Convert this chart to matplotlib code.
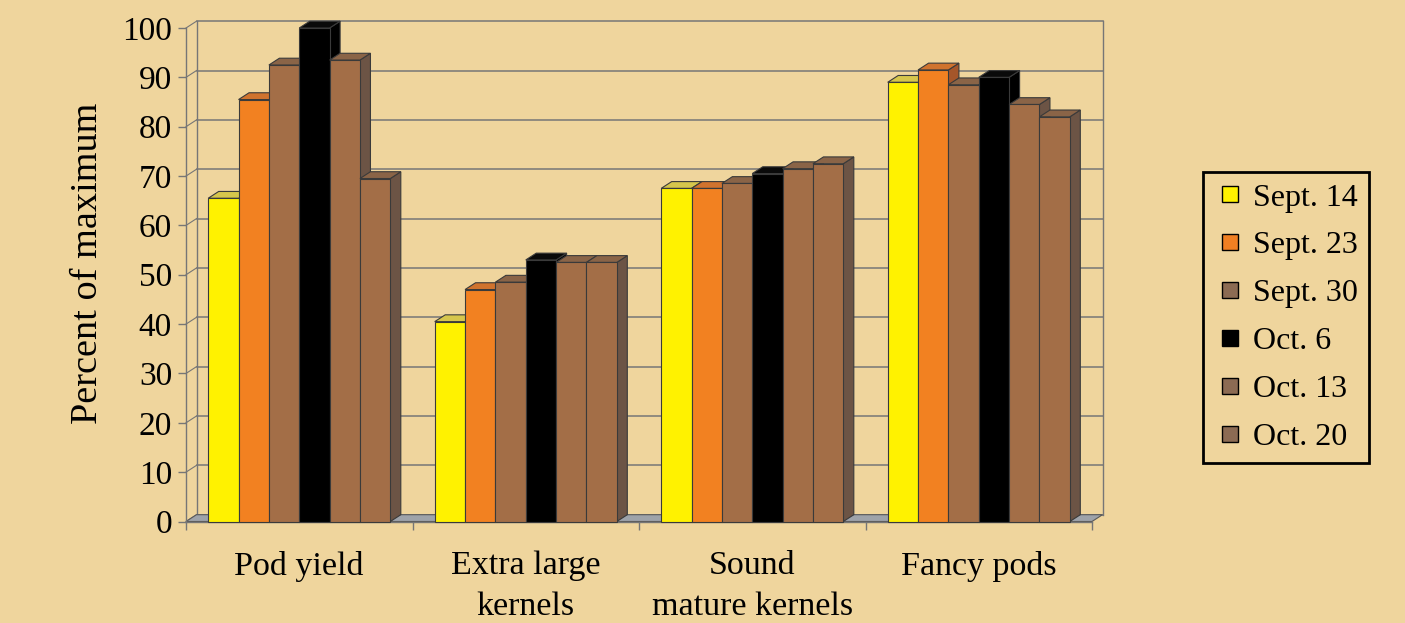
import numpy as np
import matplotlib.pyplot as plt
from matplotlib.patches import Polygon
from matplotlib.lines import Line2D

plt.rcParams['font.family'] = ['Liberation Serif', 'DejaVu Serif']

categories = ['Pod yield', 'Extra large\nkernels', 'Sound\nmature kernels', 'Fancy pods']
dates = ['Sept. 14', 'Sept. 23', 'Sept. 30', 'Oct. 6', 'Oct. 13', 'Oct. 20']

sept14 = [65.5, 40.5, 67.5, 89]
sept23 = [85.5, 47, 67.5, 91.5]
sept30 = [92.5, 48.5, 68.5, 88.5]
oct6 = [100, 53, 70.5, 90]
oct13 = [93.5, 52.5, 71.5, 84.5]
oct20 = [69.5, 52.5, 72.5, 82]
y_ticks = [0, 10, 20, 30, 40, 50, 60, 70, 80, 90, 100]

series = [sept14, sept23, sept30, oct6, oct13, oct20]

front_colors = ['#FFF200', '#F28121', '#A36E47', '#000000', '#A36E47', '#A36E47']
top_colors = ['#D6C64C', '#D0732E', '#8A6447', '#0a0a0a', '#8A6447', '#8A6447']
side_colors = ['#A89A2E', '#A5562A', '#6C5445', '#000000', '#6C5445', '#6C5445']
legend_colors = ['#FFF200', '#F07F22', '#8C6B53', '#000000', '#8C6B53', '#8C6B53']

bg = '#EFD59D'
edge = '#3a3a3a'
grid_c = '#767676'

W, H = 1405, 623
fig = plt.figure(figsize=(W / 100, H / 100), dpi=100, facecolor=bg)

# front plot area in pixels
ax_l, ax_r, ax_b, ax_t = 186, 1092, 521.5, 28
ax = fig.add_axes([ax_l / W, 1 - ax_b / H, (ax_r - ax_l) / W, (ax_b - ax_t) / H])
ax.set_facecolor('none')
n = len(categories)
ax.set_xlim(0, n)
ax.set_ylim(0, 100)

# depth offset of the 3d look, px -> data
dx = 10.5 * n / (ax_r - ax_l)
dy = 6.8 * 100 / (ax_b - ax_t)

# back wall
for v in y_ticks:
    ax.plot([dx, n + dx], [v + dy, v + dy], color=grid_c, lw=1.1, clip_on=False, zorder=1)
    ax.plot([0, dx], [v, v + dy], color=grid_c, lw=0.8, clip_on=False, zorder=1)
ax.plot([dx, dx], [dy, 100 + dy], color=grid_c, lw=1.0, clip_on=False, zorder=1)
ax.plot([n + dx, n + dx], [dy, 100 + dy], color=grid_c, lw=1.0, clip_on=False, zorder=1)

# floor
ax.add_patch(Polygon([(0, 0), (n, 0), (n + dx, dy), (dx, dy)], closed=True,
                     fc='#9EA3AA', ec='#5a5a5a', lw=0.8, zorder=2, clip_on=False))

bar_w = 0.134
group_off = 0.098
for i in range(n):
    for j, vals in enumerate(series):
        x0 = i + group_off + j * bar_w
        x1 = x0 + bar_w
        v = vals[i]
        ax.add_patch(Polygon([(x1, 0), (x1 + dx, dy), (x1 + dx, v + dy), (x1, v)], closed=True,
                             fc=side_colors[j], ec=edge, lw=0.8, zorder=3, clip_on=False))
        ax.add_patch(Polygon([(x0, v), (x1, v), (x1 + dx, v + dy), (x0 + dx, v + dy)], closed=True,
                             fc=top_colors[j], ec=edge, lw=0.8, zorder=3, clip_on=False))
        ax.bar(x0, v, width=bar_w, align='edge', color=front_colors[j],
               edgecolor=edge, linewidth=0.8, zorder=3, clip_on=False)

for s in ['top', 'right']:
    ax.spines[s].set_visible(False)
for s in ['left', 'bottom']:
    ax.spines[s].set_color(grid_c)
    ax.spines[s].set_linewidth(1.0)

ax.set_yticks(y_ticks)
ax.tick_params(axis='y', colors=grid_c, length=6, width=1, pad=4, labelsize=24, labelcolor='black')
ax.set_xticks(np.arange(n + 1))
ax.set_xticklabels([])
ax.tick_params(axis='x', which='major', colors=grid_c, length=6, width=1)
ax.set_xticks(np.arange(n) + 0.5, minor=True)
ax.set_xticklabels(categories, minor=True, fontsize=24.5, linespacing=1.42)
ax.tick_params(axis='x', which='minor', length=0, pad=21, labelcolor='black')

fig.text(88 / W, 1 - 263 / H, 'Percent of maximum', rotation=90, fontsize=27.5,
         ha='center', va='center')

handles = [Line2D([], [], marker='s', linestyle='none', markersize=11,
                  markerfacecolor=c, markeredgecolor='black', markeredgewidth=1)
           for c in legend_colors]
leg = fig.legend(handles, dates, loc='upper left', bbox_to_anchor=(1203 / W, 1 - 172 / H),
                 fontsize=23, frameon=True, fancybox=False, edgecolor='black',
                 facecolor=bg, framealpha=1, handlelength=1.0, handletextpad=0.2,
                 labelspacing=0.58, borderpad=0.35, borderaxespad=0)
leg.get_frame().set_linewidth(2)

fig.savefig('out.png', dpi=100, facecolor=bg)
